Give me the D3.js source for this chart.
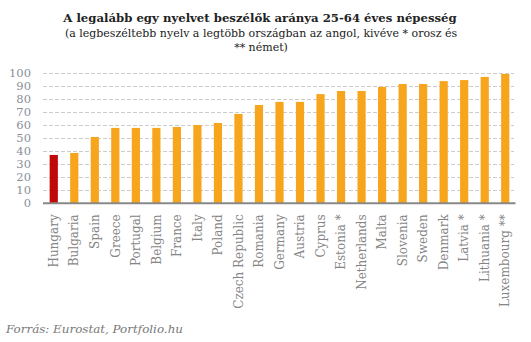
<!DOCTYPE html>
<html><head><meta charset="utf-8">
<script src="https://cdn.jsdelivr.net/npm/d3@7"></script>
<style>body{margin:0;background:#fff;} svg{display:block;}</style>
</head><body>
<svg id="chart" width="531" height="342"></svg>
<script>
const countries = ["Hungary","Bulgaria","Spain","Greece","Portugal","Belgium","France","Italy","Poland","Czech Republic","Romania","Germany","Austria","Cyprus","Estonia *","Netherlands","Malta","Slovenia","Sweden","Denmark","Latvia *","Lithuania *","Luxembourg **"];
const values = [37.2,38.7,51,58,58,58,58.7,60.2,61.8,68.7,75.6,78,78,84,86.4,86.4,89.5,91.8,91.8,94,94.8,97.2,99.5];
const highlighted = ["Hungary"];
const yTicks = [0,10,20,30,40,50,60,70,80,90,100];
const titleText = "A legalább egy nyelvet beszélők aránya 25-64 éves népesség";
const subtitleLines = ["(a legbeszéltebb nyelv a legtöbb országban az angol, kivéve * orosz és","** német)"];
const sourceText = "Forrás: Eurostat, Portfolio.hu";

const svg = d3.select("#chart");
const x = d3.scaleBand().domain(countries).range([43.5, 515.5]).paddingInner(0.6).paddingOuter(0.3);
const y = d3.scaleLinear().domain([0,100]).range([203.3, 73.3]);
const serif = "'DejaVu Serif', serif";

// gridlines
svg.append("g").selectAll("line").data(yTicks.filter(d=>d>0)).join("line")
  .attr("x1",43).attr("x2",514).attr("y1",d=>Math.round(y(d))+0.5).attr("y2",d=>Math.round(y(d))+0.5)
  .attr("stroke","#cccccc").attr("stroke-width",1).attr("stroke-dasharray","4,2");

// y axis labels
const yAxis = d3.axisLeft(y).tickValues(yTicks).tickSize(0).tickPadding(0);
const gy = svg.append("g").attr("transform","translate(31,0)").call(yAxis);
gy.select(".domain").remove();
gy.selectAll("text").attr("fill","#8a8f99").style("font-family",serif).style("font-size","11.5px");

// bars
svg.append("g").selectAll("rect").data(countries).join("rect")
  .attr("x",d=>x(d)).attr("width",x.bandwidth())
  .attr("y",(d,i)=>y(values[i])).attr("height",(d,i)=>y(0)-y(values[i]))
  .attr("fill",d=>highlighted.includes(d)?"#c00a0a":"#f8a51e");

// x axis
const xAxis = d3.axisBottom(x).tickSize(0).tickPadding(0);
const gx = svg.append("g").attr("transform",`translate(0,${y(0)})`).call(xAxis);
gx.select(".domain").attr("stroke","#888").attr("stroke-width",2).attr("d","M43,0H515.5");
gx.selectAll("text").attr("transform","rotate(-90)").attr("text-anchor","end")
  .attr("x",-11).attr("y",0).attr("dy","0.35em").attr("dx",0)
  .attr("fill","#858585").style("font-family",serif).style("font-size","12px");

// titles
svg.append("text").attr("x",260).attr("y",22).attr("text-anchor","middle")
  .style("font-family",serif).style("font-weight","bold").style("font-size","11.7px").attr("fill","#222")
  .text(titleText);
svg.selectAll(".sub").data(subtitleLines).join("text").attr("class","sub")
  .attr("x",261).attr("y",(d,i)=>37+i*14).attr("text-anchor","middle")
  .style("font-family",serif).style("font-size","11px").attr("fill","#222").text(d=>d);

svg.append("text").attr("x",6).attr("y",333)
  .style("font-family",serif).style("font-style","italic").style("font-size","11.9px").attr("fill","#777")
  .text(sourceText);
</script>
</body></html>
